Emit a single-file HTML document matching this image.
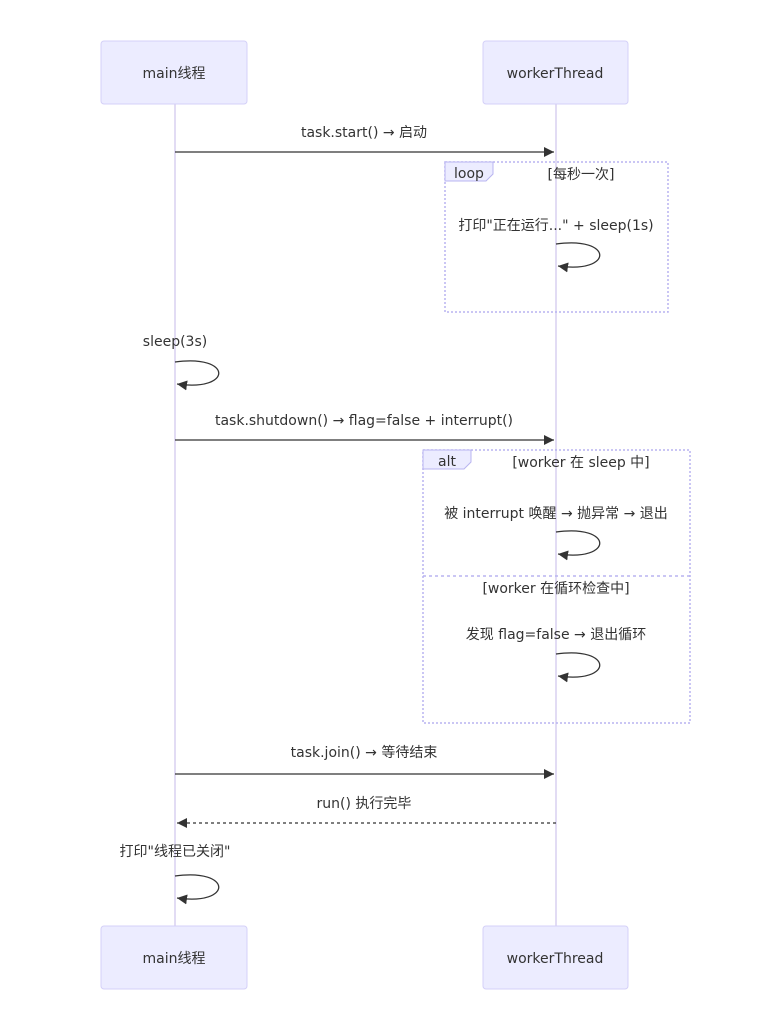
<!DOCTYPE html>
<html><head><meta charset="utf-8"><style>
html,body{margin:0;padding:0;background:#fff;}
svg{display:block;font-family:"DejaVu Sans","Noto Sans CJK SC",sans-serif;}
text{fill:#333;font-size:14px;}
</style></head><body>
<svg width="774" height="1022" viewBox="0 0 774 1022" xmlns="http://www.w3.org/2000/svg">
<defs>
<marker id="ah" markerWidth="12" markerHeight="12" refX="10" refY="5" orient="auto" markerUnits="userSpaceOnUse">
<path d="M0,0 L10,5 L0,10 z" fill="#333"/></marker>
</defs>
<line x1="175" y1="104" x2="175" y2="926" stroke="#d8d0f0" stroke-width="1.5"/>
<line x1="556" y1="104" x2="556" y2="926" stroke="#d8d0f0" stroke-width="1.5"/>
<g fill="#ECECFF" stroke="#d4d0f8" stroke-width="1">
<rect x="101" y="41" width="146" height="63" rx="3"/>
<rect x="483" y="41" width="145" height="63" rx="3"/>
<rect x="101" y="926" width="146" height="63" rx="3"/>
<rect x="483" y="926" width="145" height="63" rx="3"/>
</g>
<g text-anchor="middle">
<text x="174" y="78">main线程</text>
<text x="555" y="78">workerThread</text>
<text x="174" y="963">main线程</text>
<text x="555" y="963">workerThread</text>
</g>
<rect x="445" y="162" width="223" height="150" fill="none" stroke="#b8b4f0" stroke-width="1.5" stroke-dasharray="2,2"/>
<path d="M445,162 H493 V174 L486,181 H445 Z" fill="#ECECFF" stroke="#b8b4f0"/>
<text x="469" y="178" text-anchor="middle">loop</text>
<text x="581" y="179" text-anchor="middle">[每秒一次]</text>
<rect x="423" y="450" width="267" height="273" fill="none" stroke="#b8b4f0" stroke-width="1.5" stroke-dasharray="2,2"/>
<path d="M423,450 H471 V462 L464,469 H423 Z" fill="#ECECFF" stroke="#b8b4f0"/>
<text x="447" y="466" text-anchor="middle">alt</text>
<text x="581" y="467" text-anchor="middle">[worker 在 sleep 中]</text>
<line x1="423" y1="576" x2="690" y2="576" stroke="#b8b4f0" stroke-width="1.5" stroke-dasharray="3,3"/>
<text x="556" y="593" text-anchor="middle">[worker 在循环检查中]</text>
<g stroke="#333" stroke-width="1.3" fill="none">
<line x1="175" y1="152" x2="554" y2="152" marker-end="url(#ah)"/>
<line x1="175" y1="440" x2="554" y2="440" marker-end="url(#ah)"/>
<line x1="175" y1="774" x2="554" y2="774" marker-end="url(#ah)"/>
<line x1="556" y1="823" x2="177" y2="823" stroke-dasharray="3,3" marker-end="url(#ah)"/>
<path d="M556,244 C614,236 614,274 558,266" marker-end="url(#ah)"/>
<path d="M175,362 C233,354 233,392 177,384" marker-end="url(#ah)"/>
<path d="M556,532 C614,524 614,562 558,554" marker-end="url(#ah)"/>
<path d="M556,654 C614,646 614,684 558,676" marker-end="url(#ah)"/>
<path d="M175,876 C233,868 233,906 177,898" marker-end="url(#ah)"/>
</g>
<g text-anchor="middle">
<text x="364" y="137">task.start() → 启动</text>
<text x="556" y="230">打印"正在运行..." + sleep(1s)</text>
<text x="175" y="346">sleep(3s)</text>
<text x="364" y="425">task.shutdown() → flag=false + interrupt()</text>
<text x="556" y="518">被 interrupt 唤醒 → 抛异常 → 退出</text>
<text x="556" y="639">发现 flag=false → 退出循环</text>
<text x="364" y="757">task.join() → 等待结束</text>
<text x="364" y="808">run() 执行完毕</text>
<text x="175" y="856">打印"线程已关闭"</text>
</g>
</svg>
</body></html>
